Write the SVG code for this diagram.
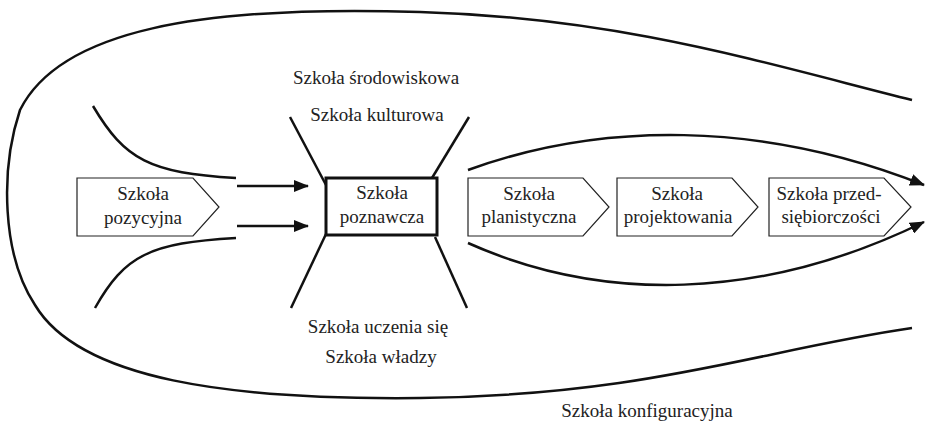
<svg xmlns="http://www.w3.org/2000/svg" width="925" height="426" viewBox="0 0 925 426">
<style>
  text { font-family: "Liberation Serif", "Times New Roman", serif; font-size: 19px; fill: #222; text-anchor: middle; }
  .pent { fill: #fff; stroke: #222; stroke-width: 1.2; }
  .box { fill: #fff; stroke: #111; stroke-width: 3; }
  .line { fill: none; stroke: #111; stroke-width: 2.5; stroke-linecap: butt; }
  .arrow { fill: none; stroke: #111; stroke-width: 2.5; marker-end: url(#ah); }
</style>
<defs>
  <marker id="ah" markerUnits="userSpaceOnUse" markerWidth="15" markerHeight="12" refX="14" refY="6" orient="auto">
    <path d="M0,0 L15,6 L0,12 z" fill="#111"/>
  </marker>
</defs>
<rect width="925" height="426" fill="#fff"/>

<g id="connectors">
  <!-- outer configuration curve -->
  <path class="line" d="M912,100 C760,62 620,18 420,12 C200,5 60,30 20,110 C0,170 2,255 35,305 C80,380 230,400 420,398 C650,395 760,350 912,328"/>
  <!-- left funnel -->
  <path class="line" d="M93,106 C125,160 150,173 236,178"/>
  <path class="line" d="M95,308 C125,255 150,243 236,238"/>
  <!-- arrows into center -->
  <path class="arrow" d="M237,186 L308,186"/>
  <path class="arrow" d="M237,226 L308,226"/>
  <!-- diagonals -->
  <path class="line" d="M290,117 L326,185"/>
  <path class="line" d="M469,117 L432,178"/>
  <path class="line" d="M326,234 L291,308"/>
  <path class="line" d="M435,237 L467,308"/>
  <!-- right curves with arrows -->
  <path class="arrow" d="M468,170 C600,122 760,120 924,185"/>
  <path class="arrow" d="M468,243 C600,302 760,302 924,222"/>
</g>

<g id="pozycyjna">
  <path class="pent" d="M77,178 L193,178 L219,207 L193,236 L77,236 Z"/>
  <text x="143" y="200">Szkoła</text>
  <text x="143" y="224">pozycyjna</text>
</g>

<g id="poznawcza">
  <rect class="box" x="326" y="178" width="111" height="57"/>
  <text x="382" y="199">Szkoła</text>
  <text x="382" y="223">poznawcza</text>
</g>

<g id="planistyczna">
  <path class="pent" d="M468,178 L583,178 L609,207 L583,236 L468,236 Z"/>
  <text x="529" y="200">Szkoła</text>
  <text x="529" y="223">planistyczna</text>
</g>

<g id="projektowania">
  <path class="pent" d="M617,178 L732,178 L758,207 L732,236 L617,236 Z"/>
  <text x="677" y="200">Szkoła</text>
  <text x="678" y="223">projektowania</text>
</g>

<g id="przedsiebiorczosci">
  <path class="pent" d="M769,178 L884,178 L911,207 L884,236 L769,236 Z"/>
  <text x="829" y="200">Szkoła przed-</text>
  <text x="831" y="223">siębiorczości</text>
</g>

<g id="srodowiskowa"><text x="376" y="84">Szkoła środowiskowa</text></g>
<g id="kulturowa"><text x="377" y="121">Szkoła kulturowa</text></g>
<g id="uczenia"><text x="378" y="333">Szkoła uczenia się</text></g>
<g id="wladzy"><text x="381" y="363">Szkoła władzy</text></g>
<g id="konfiguracyjna"><text x="647" y="417">Szkoła konfiguracyjna</text></g>
</svg>
